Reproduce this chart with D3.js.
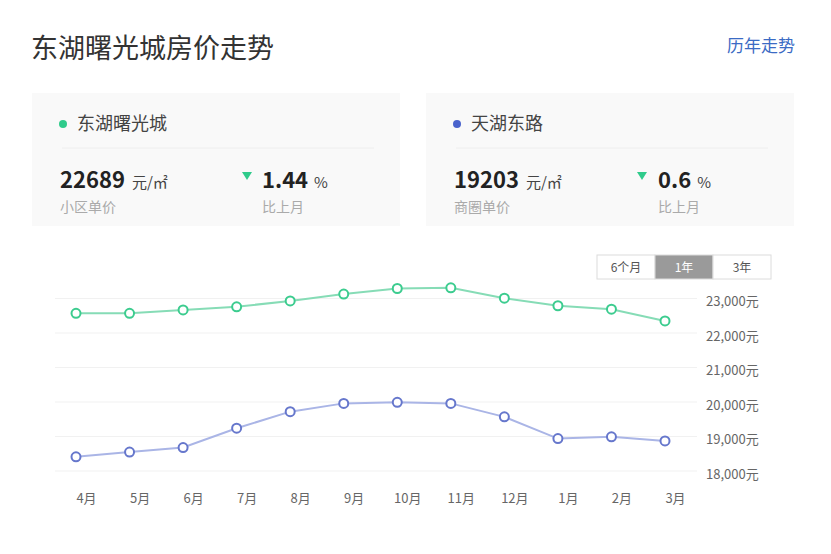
<!DOCTYPE html>
<html>
<head>
<meta charset="utf-8">
<script src="https://cdn.jsdelivr.net/npm/d3@7"></script>
<style>
  body { margin: 0; background: #fff; font-family: "Noto Sans CJK SC", "Noto Sans", sans-serif; }
  svg text { font-family: "Noto Sans CJK SC", "Noto Sans", sans-serif; }
</style>
</head>
<body>
<svg width="831" height="554"></svg>
<script>
var months = ["4月", "5月", "6月", "7月", "8月", "9月", "10月", "11月", "12月", "1月", "2月", "3月"];
var estateValues = [22570, 22570, 22670, 22760, 22930, 23130, 23290, 23310, 23010, 22790, 22690, 22350];
var areaValues = [18410, 18550, 18680, 19240, 19720, 19960, 19990, 19960, 19570, 18940, 18990, 18870];
var yTicks = [18000, 19000, 20000, 21000, 22000, 23000];
var cards = [
  {name: "东湖曙光城", color: "#2fcb8b", price: "22689", priceLabel: "小区单价", change: "1.44"},
  {name: "天湖东路", color: "#4a63cc", price: "19203", priceLabel: "商圈单价", change: "0.6"}
];
var ranges = ["6个月", "1年", "3年"];

var svg = d3.select("svg");

// header
svg.append("text")
    .attr("x", 31).attr("y", 58)
    .attr("font-size", 27).attr("fill", "#333")
    .text("东湖曙光城房价走势");
svg.append("text")
    .attr("x", 795).attr("y", 52)
    .attr("text-anchor", "end")
    .attr("font-size", 17).attr("fill", "#3b6bc4")
    .text("历年走势");

// summary cards
var card = svg.selectAll(".card")
    .data(cards)
  .enter().append("g")
    .attr("class", "card")
    .attr("transform", function(d, i) { return "translate(" + (i ? 426 : 32) + ",93)"; });

card.append("rect")
    .attr("width", 368)
    .attr("height", 133)
    .attr("fill", "#f9f9f9");
card.append("circle")
    .attr("cx", 31).attr("cy", 31).attr("r", 4)
    .attr("fill", function(d) { return d.color; });
card.append("text")
    .attr("x", 45).attr("y", 37)
    .attr("font-size", 18).attr("fill", "#444")
    .text(function(d) { return d.name; });
card.append("line")
    .attr("x1", 30).attr("x2", 342)
    .attr("y1", 55).attr("y2", 55)
    .attr("stroke", "#eeeeee");

var price = card.append("text")
    .attr("x", 28).attr("y", 95)
    .attr("fill", "#222");
price.append("tspan").attr("font-size", 22).attr("font-weight", "bold")
    .text(function(d) { return d.price; });
price.append("tspan").attr("font-size", 15).attr("fill", "#444").attr("dx", 7)
    .text("元/㎡");
card.append("text")
    .attr("x", 28).attr("y", 119)
    .attr("font-size", 14).attr("fill", "#aaa")
    .text(function(d) { return d.priceLabel; });

card.append("path")
    .attr("d", function(d, i) {
      var x = i ? 216 : 215;
      return "M" + (x - 5) + ",79L" + (x + 5) + ",79L" + x + ",87Z";
    })
    .attr("fill", "#2fcb8b");
var change = card.append("text")
    .attr("x", function(d, i) { return i ? 232 : 230; }).attr("y", 95)
    .attr("fill", "#222");
change.append("tspan").attr("font-size", 22).attr("font-weight", "bold")
    .text(function(d) { return d.change; });
change.append("tspan").attr("font-size", 15).attr("fill", "#444").attr("dx", 6)
    .text("%");
card.append("text")
    .attr("x", function(d, i) { return i ? 232 : 230; }).attr("y", 119)
    .attr("font-size", 14).attr("fill", "#aaa")
    .text("比上月");

// range switch
var btn = svg.selectAll(".btn")
    .data(ranges)
  .enter().append("g")
    .attr("class", "btn")
    .attr("transform", function(d, i) { return "translate(" + (597 + i * 58) + ",255)"; });
btn.append("rect")
    .attr("width", 58).attr("height", 24)
    .attr("fill", function(d, i) { return i === 1 ? "#9a9a9a" : "#fff"; })
    .attr("stroke", "#dcdcdc");
btn.append("text")
    .attr("x", 29).attr("y", 17)
    .attr("text-anchor", "middle")
    .attr("font-size", 12)
    .attr("fill", function(d, i) { return i === 1 ? "#fff" : "#555"; })
    .text(function(d) { return d; });

// chart
var x = d3.scalePoint().domain(months).range([76, 665]);
var y = d3.scaleLinear().domain([18000, 23000]).range([471, 298.5]);

svg.append("g")
    .attr("class", "grid")
    .selectAll("line")
    .data(yTicks)
  .enter().append("line")
    .attr("x1", 55).attr("x2", 697)
    .attr("y1", function(d) { return y(d); })
    .attr("y2", function(d) { return y(d); })
    .attr("stroke", "#f1f1f1");

var yAxis = svg.append("g")
    .attr("transform", "translate(706,3)")
    .call(d3.axisRight(y).tickValues(yTicks).tickSize(0)
      .tickFormat(function(d) { return d3.format(",")(d) + "元"; }));
yAxis.select(".domain").remove();
yAxis.selectAll("text")
    .attr("x", 0)
    .attr("font-size", 13).attr("fill", "#666");

var xAxis = svg.append("g")
    .attr("transform", "translate(10,491)")
    .call(d3.axisBottom(x).tickSize(0));
xAxis.select(".domain").remove();
xAxis.selectAll("text")
    .attr("font-size", 13).attr("fill", "#666");

var line = d3.line()
    .x(function(d, i) { return x(months[i]); })
    .y(function(d) { return y(d); });

var series = [
  {values: areaValues, line: "#aab5e6", mark: "#6677cc"},
  {values: estateValues, line: "#86dcb6", mark: "#3ccc8f"}
];

series.forEach(function(s) {
  svg.append("path")
      .datum(s.values)
      .attr("fill", "none")
      .attr("stroke", s.line)
      .attr("stroke-width", 2)
      .attr("d", line);
  svg.append("g").selectAll("circle")
      .data(s.values)
    .enter().append("circle")
      .attr("cx", function(d, i) { return x(months[i]); })
      .attr("cy", function(d) { return y(d); })
      .attr("r", 4.5)
      .attr("fill", "#fff")
      .attr("stroke", s.mark)
      .attr("stroke-width", 2);
});
</script>
</body>
</html>
